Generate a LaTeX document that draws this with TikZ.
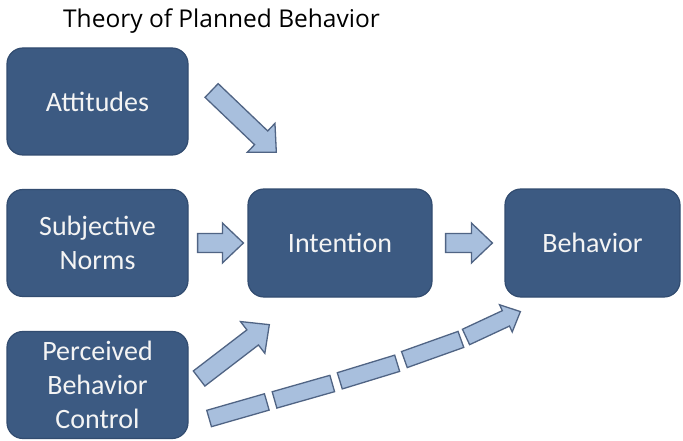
\documentclass[tikz,border=0pt]{standalone}
\usepackage{fontspec}
\setmainfont{Carlito}
\newfontfamily\titlefont{Open Sans}
\usetikzlibrary{calc, decorations.markings}
\definecolor{boxblue}{RGB}{60,90,130}
\definecolor{boxedge}{RGB}{50,76,112}
\definecolor{boxtext}{RGB}{244,244,244}
\definecolor{arrowblue}{RGB}{168,191,221}
\definecolor{arrowedge}{RGB}{80,100,132}

% block arrow from one named coordinate to another
\newcommand{\blockarrow}[2]{%
	\pgfpointdiff{\pgfpointanchor{#1}{center}}{\pgfpointanchor{#2}{center}}%
	\pgfgetlastxy{\arrdx}{\arrdy}%
	\pgfmathsetmacro{\arrlen}{veclen(\arrdx,\arrdy)}%
	\pgfmathsetmacro{\arrang}{atan2(\arrdy,\arrdx)}%
	\begin{scope}[shift={(#1)}, rotate=\arrang]
		\draw[arrowblock] (0,-9.5) -- (\arrlen-21,-9.5) -- (\arrlen-21,-20) -- (\arrlen,0) -- (\arrlen-21,20) -- (\arrlen-21,9.5) -- (0,9.5) -- cycle;
	\end{scope}%
}

\begin{document}
\begin{tikzpicture}[x=1pt, y=1pt, line join=miter,
	tpbbox/.style={draw=boxedge, fill=boxblue, line width=1.2pt, rounded corners=16pt, text=boxtext, align=center, inner sep=0pt, minimum height=107pt, font=\fontsize{28}{34}\selectfont},
	arrowblock/.style={draw=arrowedge, fill=arrowblue, line width=1.3pt},
	dashblock/.style={decorate, decoration={markings,
		mark=between positions 0pt and 210pt step 68pt with {\draw[arrowblock] (0,-8.5) rectangle (60,8.5);},
		mark=at position 0.9999 with {\draw[arrowblock] (-60,-8.5) -- (-16,-8.5) -- (-16,-15) -- (0,0) -- (-16,15) -- (-16,8.5) -- (-60,8.5) -- cycle;}}}]
	\fill[white] (0,0) rectangle (683,440);
	\useasboundingbox (0,0) rectangle (683,440);
	\node[anchor=base, font=\titlefont\fontsize{24.5}{29}\selectfont] (title) at (221.5,412) {Theory of Planned Behavior};
	% determinants
	\node[tpbbox, minimum width=181pt] (att) at (97.5,338.5) {Attitudes};
	\node[tpbbox, minimum width=181pt] (sub) at (97.5,197) {Subjective\\Norms};
	\node[tpbbox, minimum width=181pt] (pbc) at (97.5,55) {Perceived\\Behavior\\Control};
	\node[tpbbox, minimum width=184pt, minimum height=108pt] (int) at (340,197) {Intention};
	\node[tpbbox, minimum width=175pt, minimum height=108pt] (beh) at (592.5,197) {Behavior};
	% arrow ends
	\coordinate (attout) at ([xshift=23pt,yshift=11pt]att.east);
	\coordinate (intatt) at ([xshift=29pt,yshift=36pt]int.north west);
	\coordinate (subout) at ([xshift=9pt]sub.east);
	\coordinate (intsub) at ([xshift=-4pt]int.west);
	\coordinate (intout) at ([xshift=13pt]int.east);
	\coordinate (behint) at ([xshift=-12pt]beh.west);
	\coordinate (pbcout) at ([xshift=10.5pt,yshift=6.5pt]pbc.east);
	\coordinate (intpbc) at ([xshift=22pt,yshift=-27pt]int.south west);
	\coordinate (pbcdash) at ([xshift=20.5pt,yshift=-33.5pt]pbc.east);
	\coordinate (behpbc) at ([xshift=16pt,yshift=-14pt]beh.south west);
	\blockarrow{attout}{intatt}
	\blockarrow{subout}{intsub}
	\blockarrow{intout}{behint}
	\blockarrow{pbcout}{intpbc}
	\path[dashblock] (pbcdash) to[out=16, in=205] (behpbc);
\end{tikzpicture}
\end{document}
